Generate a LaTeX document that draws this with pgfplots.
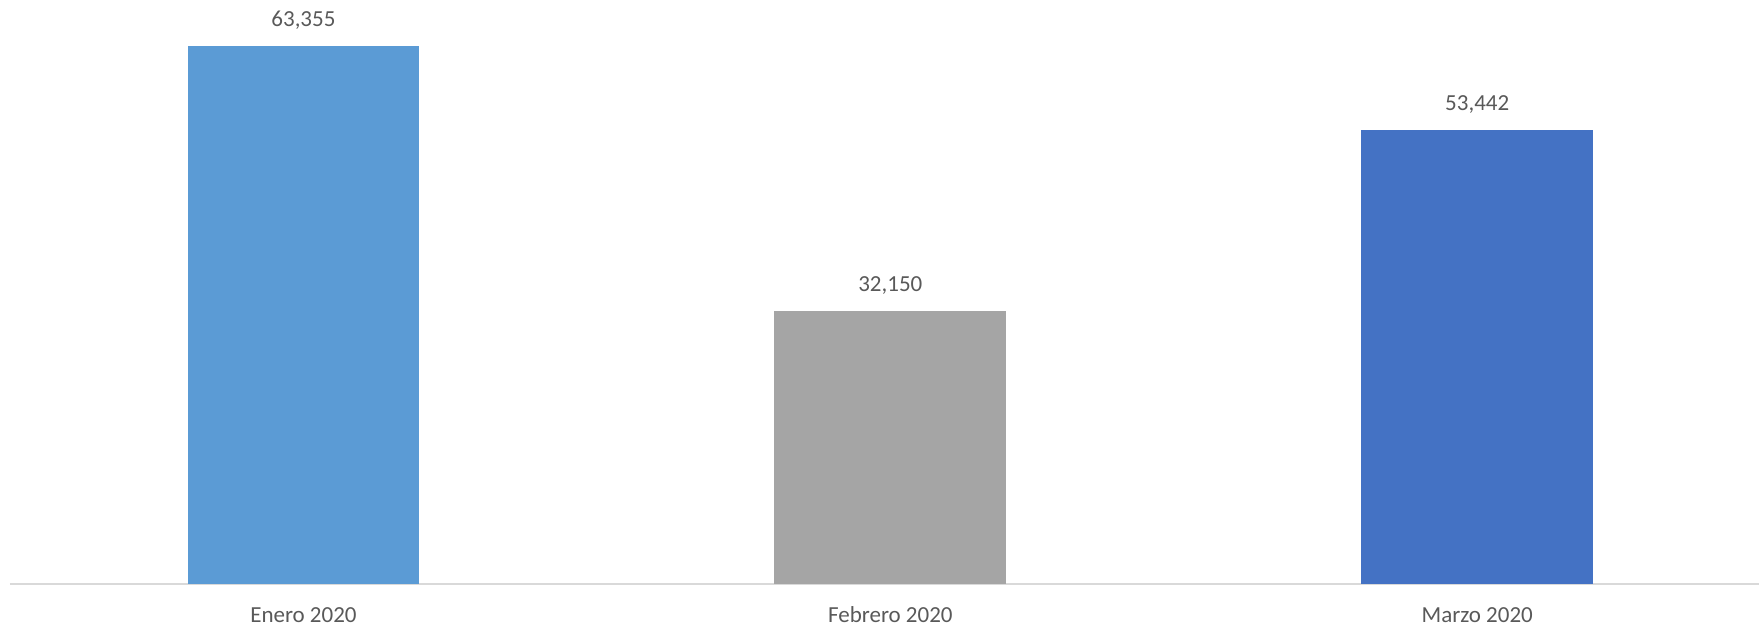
\documentclass[border=0pt]{standalone}
\usepackage{pgfplots}
\pgfplotsset{compat=1.18}
\usepackage{fontspec}
\setmainfont{Carlito}

\definecolor{barA}{HTML}{5B9BD5}
\definecolor{barB}{HTML}{A5A5A5}
\definecolor{barC}{HTML}{4472C4}
\definecolor{txt}{HTML}{595959}
\definecolor{baseln}{HTML}{D9D9D9}

\begin{document}
\begin{tikzpicture}
\begin{axis}[
    name=ax,
    scale only axis,
    width=875pt, height=292pt,
    ybar, bar width=0.395, bar shift=0pt,
    xmin=-0.5, xmax=2.48,
    ymin=0, ymax=68730,
    axis y line=none,
    axis x line=bottom,
    axis line style={draw=baseln, line width=1.1pt, -},
    xtick={0,1,2},
    xticklabels={Enero 2020, Febrero 2020, Marzo 2020},
    major tick length=0pt,
    x tick label style={font=\fontsize{11.5}{13}\selectfont, text=txt, anchor=base, yshift=-19.4pt},
    nodes near coords,
    every node near coord/.append style={font=\fontsize{11.5}{13}\selectfont, text=txt, anchor=base, yshift=9.5pt},
    /pgf/number format/.cd, fixed, precision=0, 1000 sep={,}, assume math mode=true,
]
\addplot[fill=barA, draw=none] coordinates {(0,63355)};
\addplot[fill=barB, draw=none] coordinates {(1,32150)};
\addplot[fill=barC, draw=none] coordinates {(2,53442)};
\end{axis}
\path (ax.south west) ++(-5pt,-20.5pt) coordinate (bb);
\path (bb) -- (ax.north east);
\end{tikzpicture}
\end{document}
